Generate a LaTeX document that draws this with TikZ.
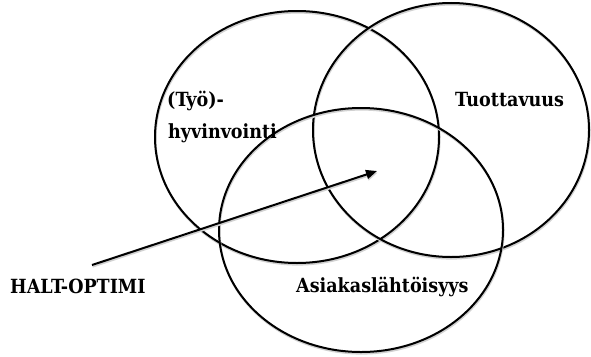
\documentclass[tikz,border=0pt]{standalone}
\usepackage{fontspec}
\setmainfont{DejaVu Serif Condensed}
\usetikzlibrary{arrows.meta}
\tikzset{
  ring/.style={draw=black, line width=2pt,
    preaction={draw=black!18, line width=2pt, transform canvas={xshift=0.6pt, yshift=-1.6pt}}},
  lbl/.style={font=\bfseries\fontsize{19.5}{23}\selectfont, inner sep=0pt, anchor=base west},
  pointer/.style={draw=black, line width=2pt, -{Triangle[length=11pt,width=9pt]},
    preaction={draw=black!18, line width=2pt, transform canvas={xshift=0.6pt, yshift=-1.6pt}}}
}
\begin{document}
\begin{tikzpicture}[x=1pt,y=-1pt]
\useasboundingbox (0,0) rectangle (591,356);
\draw[ring] (297,137) ellipse [x radius=142pt, y radius=126pt];
\draw[ring] (451,130) ellipse [x radius=138pt, y radius=127pt];
\draw[ring] (361,230) ellipse [x radius=142pt, y radius=122pt];
\node[lbl] (tyo) at (167,106) {(Työ)-};
\node[lbl] (hyv) at (168,138) {hyvinvointi};
\node[lbl] (tuo) at (455,106) {Tuottavuus};
\node[lbl] (asi) at (296,292) {Asiakaslähtöisyys};
\node[lbl] (halt) at (10,293) {HALT-OPTIMI};
\coordinate (start) at (92,265);
\coordinate (opt) at (377,171);
\draw[pointer] (start) -- (opt);
\end{tikzpicture}
\end{document}
